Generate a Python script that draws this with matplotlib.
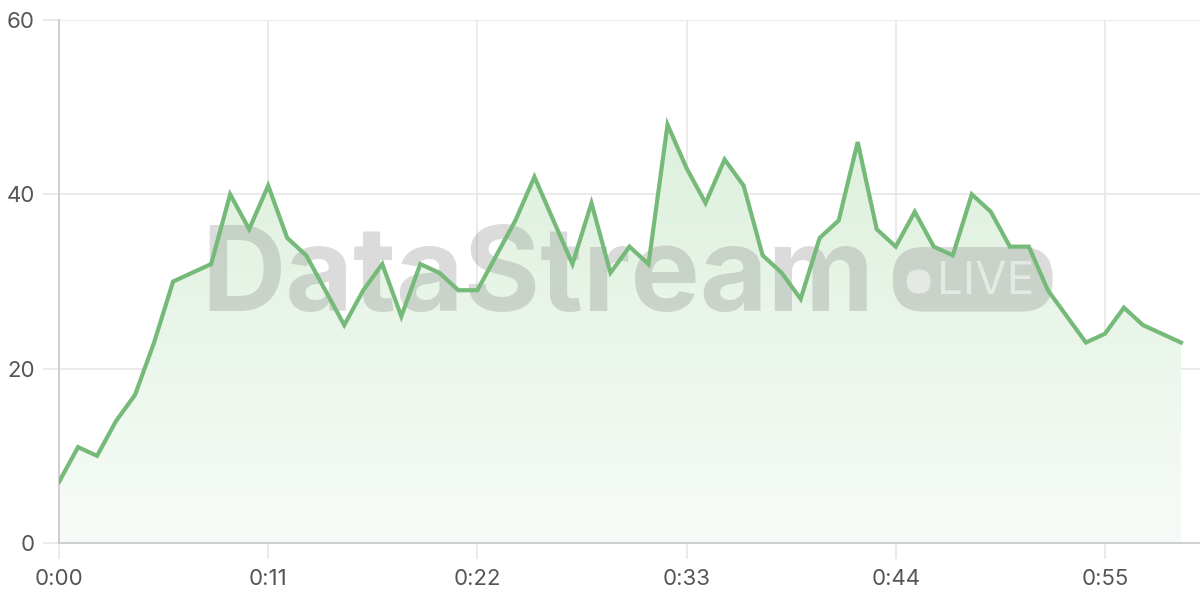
import numpy as np
import matplotlib.pyplot as plt
from matplotlib.patches import FancyBboxPatch
from matplotlib.path import Path as MPath
from matplotlib.patches import PathPatch

# data (one value per second)
seconds = list(range(60))
values = [7, 11, 10, 14, 17, 23, 30, 31, 32, 40,
          36, 41, 35, 33, 29, 25, 29, 32, 26, 32,
          31, 29, 29, 33, 37, 42, 37, 32, 39, 31,
          34, 32, 48, 43, 39, 44, 41, 33, 31, 28,
          35, 37, 46, 36, 34, 38, 34, 33, 40, 38,
          34, 34, 29, 26, 23, 24, 27, 25, 24, 23]
xticks = [0, 11, 22, 33, 44, 55]
xlabels = ['0:00', '0:11', '0:22', '0:33', '0:44', '0:55']
yticks = [0, 20, 40, 60]

plt.rcParams['font.family'] = ['Inter', 'DejaVu Sans']

fig = plt.figure(figsize=(12, 6), dpi=100)
ax = fig.add_axes([59/1200, 57/600, 1141/1200, 523/600])

line_col = '#76ba7a'
grid_col = '#e6e6e6'

# gradient fill under the line
verts = [(seconds[0], 0)] + list(zip(seconds, values)) + [(seconds[-1], 0)]
clip = PathPatch(MPath(verts), facecolor='none', edgecolor='none')
ax.add_patch(clip)
grad = np.linspace(0, 1, 256).reshape(-1, 1)
top = np.array([0.86, 0.94, 0.86])
bot = np.array([0.97, 0.985, 0.97])
img = bot + (top - bot) * grad
img = np.repeat(img[:, None, :], 2, axis=1)
im = ax.imshow(img, extent=[0, 59, 0, 50], origin='lower', aspect='auto', zorder=1)
im.set_clip_path(clip)

ax.plot(seconds, values, color=line_col, lw=3, zorder=4, solid_joinstyle='miter')

# watermark
ax.text(25.15, 30.2, 'DataStream', fontsize=84, fontweight='bold', color='#888888',
        alpha=0.3, ha='center', va='center', zorder=2)
badge = FancyBboxPatch((43.85, 26.55), 8.4, 7.4, boxstyle='round,pad=0,rounding_size=1.6',
                       facecolor='#888888', alpha=0.3, edgecolor='none', zorder=2,
                       mutation_aspect=19/8.7)
ax.add_patch(badge)
ax.add_patch(FancyBboxPatch((45.2 - 0.63, 30.0 - 1.38), 1.26, 2.76,
                            boxstyle='round,pad=0,rounding_size=0.63',
                            mutation_aspect=19/8.7, facecolor='white', alpha=0.5,
                            edgecolor='none', zorder=2))
ax.text(48.75, 30.0, 'LIVE', fontsize=33, color='white', alpha=0.5, ha='center',
        va='center', zorder=2)

ax.set_xlim(0, 60)
ax.set_ylim(0, 60)
ax.set_xticks(xticks)
ax.set_xticklabels(xlabels)
ax.set_yticks(yticks)
ax.grid(True, color=grid_col, lw=1.2, zorder=0)
ax.set_axisbelow(True)
for s in ['top', 'right']:
    ax.spines[s].set_visible(False)
for s in ['left', 'bottom']:
    ax.spines[s].set_color('#cccccc')
    ax.spines[s].set_linewidth(1.3)
ax.tick_params(axis='both', length=11.5, color=grid_col, width=1.2,
               labelsize=16, labelcolor='#555555')
ax.tick_params(axis='x', pad=7)
ax.tick_params(axis='y', pad=6)

fig.savefig('out.png', dpi=100, facecolor='white')
